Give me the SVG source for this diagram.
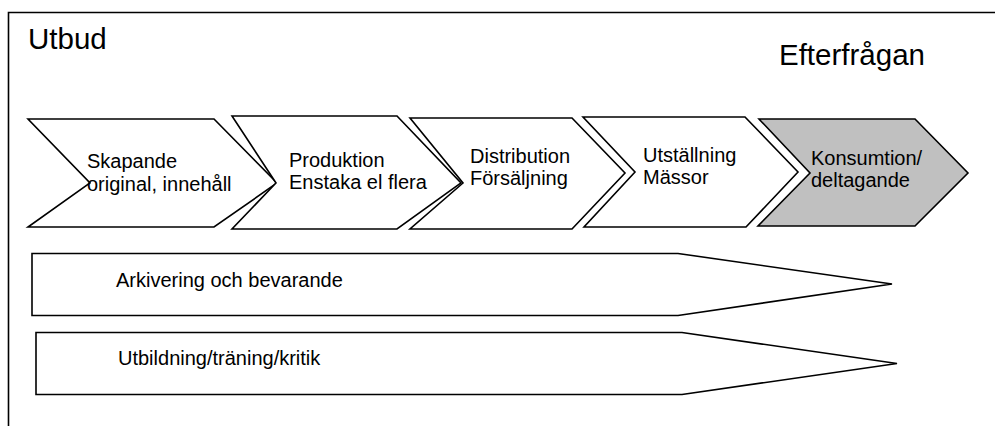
<svg xmlns="http://www.w3.org/2000/svg" width="995" height="426" viewBox="0 0 995 426">
<style>
.shape{fill:#ffffff;stroke:#000000;stroke-width:1.6;stroke-linejoin:miter}
.grey{fill:#c0c0c0}
text{font-family:"Liberation Sans",Arial,sans-serif;fill:#000000}
.t{font-size:20px}
.title{font-size:29.5px}
</style>
<rect width="995" height="426" fill="#ffffff"/>
<path d="M8.5,426 V12.5 H995" fill="none" stroke="#000" stroke-width="1.6"/>
<g id="title-utbud"><text class="title" x="28" y="49">Utbud</text></g>
<g id="title-efterfragan"><text class="title" x="779" y="65">Efterfrågan</text></g>
<g id="node-skapande">
<polygon class="shape" points="28,119 214,119 277,183 214,227 28,227 90,183"/>
<text class="t" x="87" y="168">Skapande</text>
<text class="t" x="87" y="191">original, innehåll</text>
</g>
<g id="node-produktion">
<polygon class="shape" points="232,116 397,116 461,183 397,229 232,229 276,183"/>
<text class="t" x="289" y="166.5">Produktion</text>
<text class="t" x="289" y="188.5">Enstaka el flera</text>
</g>
<g id="node-distribution">
<polygon class="shape" points="410,118 572,118 625,173 572,229 410,229 463,183"/>
<text class="t" x="470" y="162.5">Distribution</text>
<text class="t" x="470" y="184.5">Försäljning</text>
</g>
<g id="node-utstallning">
<polygon class="shape" points="583,117 745,117 798,172 746,227 584,227 635,172"/>
<text class="t" x="643" y="161.5">Utställning</text>
<text class="t" x="643" y="183.5">Mässor</text>
</g>
<g id="node-konsumtion">
<polygon class="shape grey" points="759,119 915,119 968,173 915,226 758,226 810,173"/>
<text class="t" x="811" y="165">Konsumtion/</text>
<text class="t" x="811" y="187">deltagande</text>
</g>
<g id="node-arkivering">
<polygon class="shape" points="32,253.5 678,253.5 892,284 678,315.5 32,315.5"/>
<text class="t" x="116" y="287">Arkivering och bevarande</text>
</g>
<g id="node-utbildning">
<polygon class="shape" points="36,332.5 682,332.5 897,363.5 682,394.5 36,394.5"/>
<text class="t" x="118" y="365">Utbildning/träning/kritik</text>
</g>
<g id="connectors"></g>
</svg>
